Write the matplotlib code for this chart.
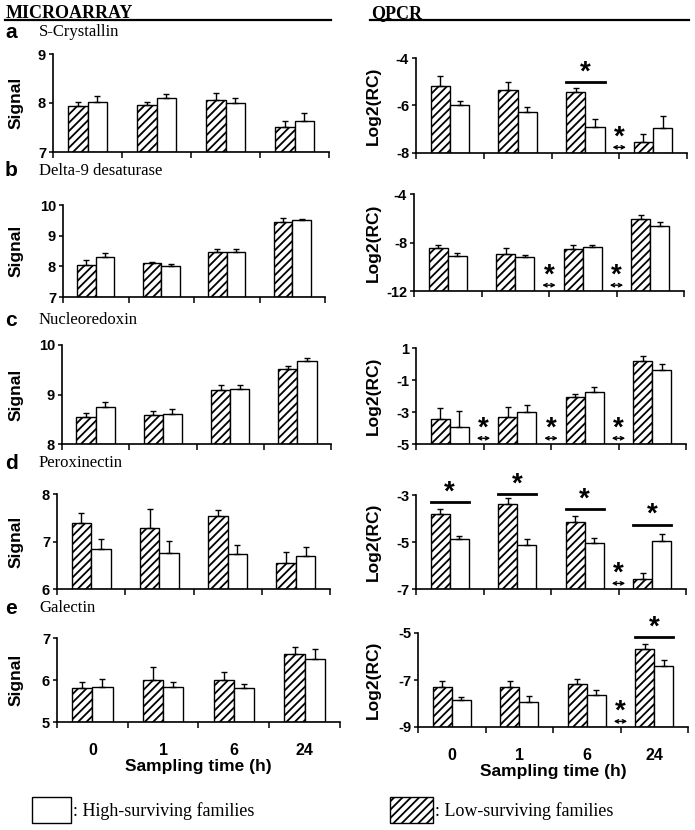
import numpy as np
import matplotlib.pyplot as plt
from matplotlib.lines import Line2D
from matplotlib.patches import Rectangle
from matplotlib import transforms

plt.rcParams['font.family'] = ['Liberation Sans', 'DejaVu Sans']
plt.rcParams['hatch.linewidth'] = 1.3

W, H = 695, 830

times = ['0', '1', '6', '24']
genes = ['S-Crystallin', 'Delta-9 desaturase', 'Nucleoredoxin', 'Peroxinectin', 'Galectin']
letters = ['a', 'b', 'c', 'd', 'e']

# microarray signal (low- / high-surviving), with SE
micro_low = [
    [7.93, 7.96, 8.07, 7.50],
    [8.03, 8.10, 8.46, 9.46],
    [8.55, 8.59, 9.10, 9.52],
    [7.39, 7.28, 7.54, 6.55],
    [5.82, 6.00, 6.01, 6.63],
]
micro_low_err = [
    [0.09, 0.06, 0.14, 0.13],
    [0.18, 0.05, 0.10, 0.13],
    [0.07, 0.08, 0.10, 0.05],
    [0.20, 0.40, 0.12, 0.22],
    [0.13, 0.30, 0.19, 0.16],
]
micro_high = [
    [8.02, 8.10, 8.00, 7.63],
    [8.29, 8.00, 8.48, 9.50],
    [8.74, 8.61, 9.11, 9.68],
    [6.85, 6.75, 6.73, 6.69],
    [5.84, 5.84, 5.80, 6.50],
]
micro_high_err = [
    [0.12, 0.09, 0.10, 0.17],
    [0.16, 0.09, 0.09, 0.04],
    [0.11, 0.09, 0.08, 0.05],
    [0.20, 0.26, 0.20, 0.20],
    [0.18, 0.11, 0.10, 0.24],
]
micro_ticks = [[7, 8, 9], [7, 8, 9, 10], [8, 9, 10], [6, 7, 8], [5, 6, 7]]

# qPCR log2(RC)
qpcr_low = [
    [-5.19, -5.33, -5.45, -7.55],
    [-8.48, -8.97, -8.53, -6.03],
    [-3.44, -3.32, -2.07, 0.21],
    [-3.81, -3.37, -4.13, -6.56],
    [-7.30, -7.30, -7.17, -5.70],
]
qpcr_low_err = [
    [0.45, 0.32, 0.18, 0.35],
    [0.25, 0.50, 0.30, 0.30],
    [0.70, 0.64, 0.20, 0.29],
    [0.23, 0.23, 0.23, 0.24],
    [0.25, 0.25, 0.23, 0.25],
]
qpcr_high = [
    [-5.96, -6.26, -6.89, -6.93],
    [-9.08, -9.22, -8.40, -6.66],
    [-3.94, -3.00, -1.76, -0.37],
    [-4.89, -5.13, -5.03, -4.96],
    [-7.84, -7.92, -7.63, -6.42],
]
qpcr_high_err = [
    [0.17, 0.20, 0.31, 0.50],
    [0.25, 0.20, 0.22, 0.38],
    [1.00, 0.41, 0.31, 0.35],
    [0.16, 0.25, 0.21, 0.30],
    [0.11, 0.26, 0.19, 0.28],
]
qpcr_ticks = [[-8, -6, -4], [-12, -8, -4], [-5, -3, -1, 1], [-7, -5, -3], [-9, -7, -5]]

# significance: (group, height of line) and group boundaries with a double arrow
sig_lines = [[(2, -5.03)], [], [], [(0, -3.30), (1, -2.96), (2, -3.61), (3, -4.27)], [(3, -5.19)]]
sig_arrows = [[3], [2, 3], [1, 2, 3], [3], [3]]

# axes boxes in pixels: left, top, right, bottom
left_boxes = [(53, 54, 329, 152), (63, 205, 325, 297), (62, 345, 331, 444),
              (57, 494, 330, 589), (57, 638, 340, 722)]
right_boxes = [(416, 58, 687, 153), (414, 194, 684, 291), (416, 348, 686, 444),
               (416, 495, 686, 589), (418, 633, 688, 727)]
letter_y = [32, 171, 320, 463, 608]


def box(l, t, r, b):
    return [l / W, 1 - b / H, (r - l) / W, (b - t) / H]


fig = plt.figure(figsize=(W / 100, H / 100), dpi=100)
bw = 0.285


def panel(bx, low, low_err, high, high_err, ticks, ylab, label_x, last):
    ax = fig.add_axes(box(*bx))
    base = ticks[0]
    x = np.arange(4) + 0.5
    ekw = dict(lw=1, capthick=1, ecolor='black')
    ax.bar(x - bw / 2, np.array(low) - base, bw, bottom=base, color='white',
           edgecolor='black', hatch='////', lw=1,
           yerr=[np.zeros(4), low_err], capsize=2, error_kw=ekw)
    ax.bar(x + bw / 2, np.array(high) - base, bw, bottom=base, color='white',
           edgecolor='black', lw=1,
           yerr=[np.zeros(4), high_err], capsize=2, error_kw=ekw)
    ax.set_xlim(0, 4)
    ax.set_ylim(ticks[0], ticks[-1])
    ax.set_yticks(ticks)
    ax.set_yticklabels([str(t) for t in ticks], fontsize=10.5, fontweight='bold')
    ax.set_xticks(range(5))
    ax.set_xticklabels([])
    ax.tick_params(axis='x', direction='out', length=4, width=1.1)
    ax.tick_params(axis='y', direction='out', length=3, width=1.1, pad=2)
    for s in ['top', 'right']:
        ax.spines[s].set_visible(False)
    for s in ['left', 'bottom']:
        ax.spines[s].set_linewidth(1.2)
    ax.set_ylabel(ylab, fontsize=12.5, fontweight='bold')
    ax.yaxis.set_label_coords((label_x - bx[0]) / (bx[2] - bx[0]), 0.5)
    if last:
        ax.set_xticks(x, minor=True)
        ax.set_xticklabels(times, minor=True, fontsize=11.5, fontweight='bold')
        ax.tick_params(axis='x', which='minor', length=0, pad=15)
        ax.set_xlabel('Sampling time (h)', fontsize=12.5, fontweight='bold', labelpad=1)
    return ax


for i in range(5):
    last = i == 4
    panel(left_boxes[i], micro_low[i], micro_low_err[i], micro_high[i],
          micro_high_err[i], micro_ticks[i], 'Signal', 24, last)
    axr = panel(right_boxes[i], qpcr_low[i], qpcr_low_err[i], qpcr_high[i],
                qpcr_high_err[i], qpcr_ticks[i], 'Log2(RC)', 381, last)

    # significance marks
    for g, yl in sig_lines[i]:
        axr.plot([g + 0.5 - bw, g + 0.5 + bw], [yl, yl], color='black', lw=2, clip_on=False)
        axr.annotate('*', xy=(g + 0.5, yl), xytext=(0, 2), textcoords='offset points',
                     ha='center', va='baseline', fontsize=20, fontweight='bold',
                     annotation_clip=False)
    tr = transforms.blended_transform_factory(axr.transData, axr.transAxes)
    for b in sig_arrows[i]:
        axr.annotate('', xy=(b - 0.1, 0.06), xytext=(b + 0.1, 0.06), xycoords=tr,
                     textcoords=tr,
                     arrowprops=dict(arrowstyle='<->', lw=1, color='black',
                                     shrinkA=0, shrinkB=0, mutation_scale=6))
        axr.annotate('*', xy=(b, 0), xycoords=tr, xytext=(0, 6), textcoords='offset points',
                     ha='center', va='baseline', fontsize=20, fontweight='bold')

    fig.text(5 / W, 1 - letter_y[i] / H, letters[i], fontsize=15, fontweight='bold',
             va='center', ha='left')
    fig.text(39 / W, 1 - letter_y[i] / H, genes[i], fontsize=12,
             family='Liberation Serif', va='center', ha='left')

# column headers
fig.text(6 / W, 1 - 18 / H, 'MICROARRAY', fontsize=13, fontweight='bold',
         family='Liberation Serif', va='baseline')
fig.text(371 / W, 1 - 18 / H, 'QPCR', fontsize=13, fontweight='bold',
         family='Liberation Serif', va='baseline')
fig.add_artist(Line2D([5 / W, 331 / W], [1 - 20.5 / H, 1 - 20.5 / H], color='black', lw=1.6))
fig.add_artist(Line2D([370 / W, 689 / W], [1 - 20.5 / H, 1 - 20.5 / H], color='black', lw=1.6))

# legend
fig.add_artist(Rectangle((32 / W, 1 - 823 / H), 39 / W, 26 / H, transform=fig.transFigure,
                         facecolor='white', edgecolor='black', lw=1))
fig.text(73 / W, 1 - 811 / H, ': High-surviving families', fontsize=13,
         family='Liberation Serif', va='center')
fig.add_artist(Rectangle((390 / W, 1 - 823 / H), 43 / W, 26 / H, transform=fig.transFigure,
                         facecolor='white', edgecolor='black', hatch='////', lw=1))
fig.text(435 / W, 1 - 811 / H, ': Low-surviving families', fontsize=13,
         family='Liberation Serif', va='center')

fig.savefig('out.png', dpi=100)
